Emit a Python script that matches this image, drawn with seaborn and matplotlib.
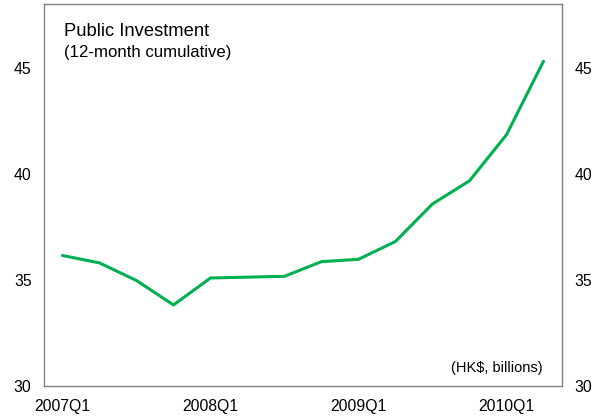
import matplotlib
matplotlib.use("Agg")
import matplotlib.pyplot as plt
import seaborn as sns
import pandas as pd

quarters = ["2007Q1", "2007Q2", "2007Q3", "2007Q4",
            "2008Q1", "2008Q2", "2008Q3", "2008Q4",
            "2009Q1", "2009Q2", "2009Q3", "2009Q4",
            "2010Q1", "2010Q2"]
investment = [36.15, 35.8, 34.97, 33.82,
              35.09, 35.13, 35.17, 35.86,
              35.97, 36.81, 38.58, 39.67,
              41.84, 45.3]
tick_labels = ["2007Q1", "2008Q1", "2009Q1", "2010Q1"]
y_ticks = [30, 35, 40, 45]

sns.set_style("white")
plt.rcParams["font.family"] = ["Liberation Sans", "DejaVu Sans"]

df = pd.DataFrame({"pos": range(len(quarters)), "quarter": quarters,
                   "value": investment})

fig = plt.figure(figsize=(6.05, 4.17), dpi=100)
ax = fig.add_axes([0.0727, 0.0743, 0.8562, 0.9161])

sns.lineplot(data=df, x="pos", y="value", ax=ax, color="#00B050",
             linewidth=2.2)

ax.set_xlim(-0.5, len(quarters) - 0.5)
ax.set_ylim(30, 48)
ax.set_xticks([quarters.index(q) for q in tick_labels])
ax.set_xticklabels(tick_labels)
ax.set_yticks(y_ticks)
ax.set_yticklabels([str(v) for v in y_ticks])
ax.tick_params(axis="both", length=0, labelsize=11.3, colors="black")
ax.tick_params(axis="x", pad=9.5)
ax.tick_params(axis="y", pad=9, labelleft=True, labelright=True)
ax.set_xlabel("")
ax.set_ylabel("")

for side in ["left", "right", "top", "bottom"]:
    ax.spines[side].set_visible(True)
    ax.spines[side].set_color("#808080")
    ax.spines[side].set_linewidth(1.0)

ax.text(0.038, 0.916, "Public Investment", transform=ax.transAxes,
        fontsize=13.2, va="baseline", ha="left", color="black")
ax.text(0.038, 0.861, "(12-month cumulative)", transform=ax.transAxes,
        fontsize=12.1, va="baseline", ha="left", color="black")
ax.text(0.962, 0.037, "(HK$, billions)", transform=ax.transAxes,
        fontsize=10.5, va="baseline", ha="right", color="black")

fig.savefig("out.png", dpi=100)
